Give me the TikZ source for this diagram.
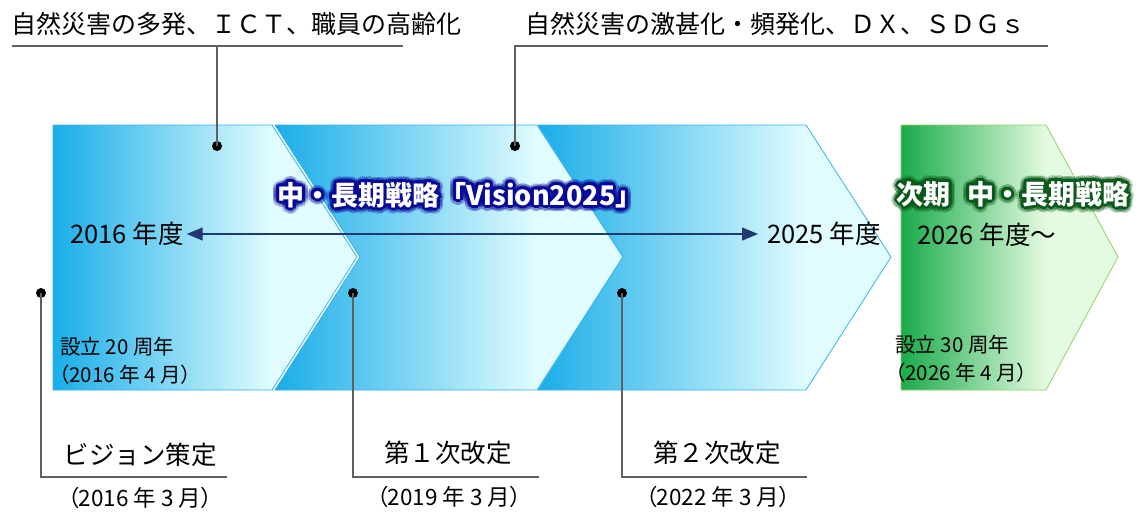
\documentclass[tikz,border=0pt]{standalone}
\usepackage{fontspec}
\setmainfont{Noto Sans CJK JP}
\newfontfamily\jpp{Noto Sans CJK JP}[RawFeature=+palt]
\usetikzlibrary{arrows.meta}
\definecolor{blueA}{HTML}{1AADE8}
\definecolor{blueB}{HTML}{E0FCFF}
\definecolor{blueEdge}{HTML}{35B4EA}
\definecolor{greenA}{HTML}{1AAB4A}
\definecolor{greenB}{HTML}{E3FBE0}
\definecolor{greenEdge}{HTML}{9ACF6A}
\definecolor{navyArrow}{HTML}{1F3A6E}
\definecolor{navyGlow}{HTML}{0A0A9A}
\definecolor{greenGlow}{HTML}{0B5A1C}
\definecolor{lineGray}{HTML}{5F5F5F}
\newcommand\titleA{中・長期戦略「Vision2025」}
\newcommand\titleB{次期\hspace{0.6em}中・長期戦略}
\begin{document}
\begin{tikzpicture}[x=1pt,y=-1pt,
  toptext/.style={anchor=west,inner sep=0pt,font=\fontsize{25}{25}\selectfont},
  lbl/.style={inner sep=0pt,font=\fontsize{25.5}{25}\selectfont},
  datelbl/.style={inner sep=0pt,font=\jpp\fontsize{22.5}{22}\selectfont},
  yeartext/.style={anchor=west,inner sep=0pt,font=\fontsize{25.5}{25}\selectfont},
  smalltext/.style={anchor=west,inner sep=0pt,font=\fontsize{20.5}{20}\selectfont},
  smalldate/.style={anchor=west,inner sep=0pt,font=\jpp\fontsize{20.5}{20}\selectfont},
  titletext/.style={inner sep=0pt,font=\bfseries\fontsize{27}{27}\selectfont},
  dot/.style={circle,fill=black,minimum size=10pt,inner sep=0pt},
  leader/.style={draw=lineGray,line width=1.2pt},
  blueedge/.style={draw=blueEdge,line width=0.8pt},
  greenedge/.style={draw=greenEdge,line width=0.8pt},
  spanarrow/.style={draw=navyArrow,line width=1.4pt,{Triangle[length=16pt,width=13pt]}-{Triangle[length=16pt,width=13pt]}}
]
\useasboundingbox (0,0) rectangle (1138,512);
\fill[white] (0,0) rectangle (1138,512);

% ---- chevron 1
\def\shA{(53,125) -- (272,125) -- (357,257) -- (272,390) -- (53,390) -- cycle}
\fill[blueB] \shA;
\begin{scope}\clip \shA; \shade[left color=blueA,right color=blueB] (53,125) rectangle (272,390);\end{scope}
\draw[blueedge] \shA;

% ---- chevron 2
\def\shB{(275,125) -- (537,125) -- (623,257) -- (537,390) -- (275,390) -- (360,257) -- cycle}
\fill[blueB] \shB;
\begin{scope}\clip \shB; \shade[left color=blueA,right color=blueB] (275,125) rectangle (537,390);\end{scope}
\draw[blueedge] \shB;

% ---- chevron 3
\def\shC{(538,125) -- (806,125) -- (891,257) -- (806,390) -- (538,390) -- (623,257) -- cycle}
\fill[blueB] \shC;
\begin{scope}\clip \shC; \shade[left color=blueA,right color=blueB] (538,125) rectangle (806,390);\end{scope}
\draw[blueedge] \shC;

% ---- green shape
\def\shD{(901,125) -- (1046,125) -- (1118,257) -- (1046,390) -- (901,390) -- cycle}
\fill[greenB] \shD;
\begin{scope}\clip \shD; \shade[left color=greenA,right color=greenB] (901,125) rectangle (1046,390);\end{scope}
\draw[greenedge] \shD;

% ---- top texts and leaders
\node[toptext] (top1) at (11,24) {自然災害の多発、ＩＣＴ、職員の高齢化};
\node[toptext] (top2) at (525,24) {自然災害の激甚化・頻発化、ＤＸ、ＳＤＧｓ};
\coordinate (u1a) at (12,46); \coordinate (u1b) at (403,46); \coordinate (u1m) at (217,46);
\coordinate (u2a) at (515,46); \coordinate (u2b) at (1048,46);
\node[dot] (d1) at (217,146) {};
\node[dot] (d2) at (515,146) {};
\draw[leader] (u1a) -- (u1b);
\draw[leader] (u1m) -- (d1.center);
\draw[leader] (u2b) -- (u2a) -- (d2.center);

% ---- years and arrow
\node[yeartext] (y2016) at (70,234) {2016 年度};
\node[yeartext] (y2025) at (767,234) {2025 年度};
\node[yeartext] (y2026) at (917,235) {2026 年度～};
\draw[spanarrow] ([xshift=3pt]y2016.east) -- ([xshift=-9pt]y2025.west);

% ---- anniversary texts
\node[smalltext] (a20) at (60,347) {設立 20 周年};
\node[smalldate] (a20d) at (59,375) {（2016 年 4 月）};
\node[smalltext] (a30) at (895,345) {設立 30 周年};
\node[smalldate] (a30d) at (895,373) {（2026 年 4 月）};

% ---- bottom milestones
\node[dot] (b1) at (41,293) {};
\node[dot] (b2) at (353,293) {};
\node[dot] (b3) at (622,293) {};
\coordinate (b1c) at (41,477); \coordinate (b1e) at (227,477);
\coordinate (b2c) at (353,477); \coordinate (b2e) at (539,477);
\coordinate (b3c) at (622,477); \coordinate (b3e) at (807,477);
\draw[leader] (b1.center) -- (b1c) -- (b1e);
\draw[leader] (b2.center) -- (b2c) -- (b2e);
\draw[leader] (b3.center) -- (b3c) -- (b3e);
\node[lbl] (m1) at (140,455) {ビジョン策定};
\node[datelbl] (m1d) at (140,498) {（2016 年 3 月）};
\node[lbl] (m2) at (448,453) {第１次改定};
\node[datelbl] (m2d) at (449,497) {（2019 年 3 月）};
\node[lbl] (m3) at (717,453) {第２次改定};
\node[datelbl] (m3d) at (718,497) {（2022 年 3 月）};

% ---- glowing titles
\foreach \a in {0,20,...,340}{
  \node[titletext,text=navyGlow,opacity=0.22] (ga\a) at ({460+6*cos(\a)},{195+6*sin(\a)}) {\titleA};
  \node[titletext,text=greenGlow,opacity=0.22] (gb\a) at ({1013+6*cos(\a)},{194+6*sin(\a)}) {\titleB};
}
\foreach \a in {0,30,...,330}{
  \node[titletext,text=navyGlow] (ha\a) at ({460+3*cos(\a)},{195+3*sin(\a)}) {\titleA};
  \node[titletext,text=greenGlow] (hb\a) at ({1013+3*cos(\a)},{194+3*sin(\a)}) {\titleB};
}
\node[titletext,text=white] (title1) at (460,195) {\titleA};
\node[titletext,text=white] (title2) at (1013,194) {\titleB};
\end{tikzpicture}
\end{document}
